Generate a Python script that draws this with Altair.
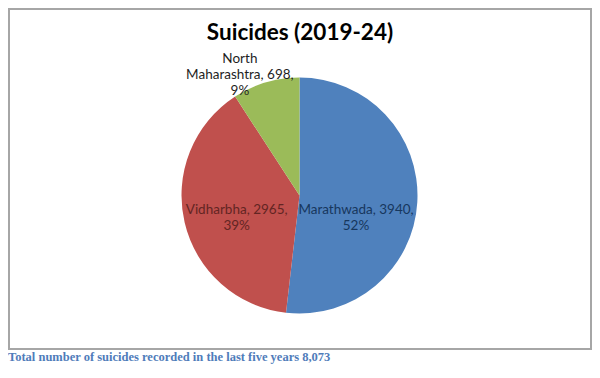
import altair as alt
import pandas as pd

regions = ["Marathwada", "Vidharbha", "North Maharashtra"]
suicides = [3940, 2965, 698]
label_lines = [
    ["Marathwada, 3940,", "52%"],
    ["Vidharbha, 2965,", "39%"],
    ["North", "Maharashtra, 698,", "9%"],
]
colors = ["#4F81BD", "#C0504D", "#9BBB59"]
label_colors = ["#17375E", "#632523", "#1E1E1E"]
title_text = "Suicides (2019-24)"
footer_text = "Total number of suicides recorded in the last five years 8,073"

total = sum(suicides)
df = pd.DataFrame({
    "region": regions,
    "value": suicides,
    "order": list(range(len(regions))),
    "label": label_lines,
})

W, H = 584, 360
CX, CY, R = 291.5, 187.5, 118
FONT = "Lato"
LH = 16

color_scale = alt.Scale(domain=regions, range=colors)

border = alt.Chart(pd.DataFrame({"a": [0]})).mark_rect(
    fill=None, stroke="#A6A6A6", strokeWidth=2
).encode(x=alt.value(1), x2=alt.value(583), y=alt.value(1), y2=alt.value(341))

arcs = alt.Chart(df).mark_arc(radius=R).encode(
    theta=alt.Theta("value:Q", stack=True),
    order=alt.Order("order:Q"),
    color=alt.Color("region:N", scale=color_scale, legend=None),
    x=alt.value(CX),
    y=alt.value(CY),
)

base = alt.Chart(df).transform_window(
    cum="sum(value)", sort=[alt.SortField("order")]
).transform_calculate(mid="datum.cum - datum.value / 2")

theta_mid = alt.Theta("mid:Q", scale=alt.Scale(domain=[0, total], range=[0, 6.283185307179586]))

label_specs = [
    (regions[0], 60, -3.4, 19 - LH / 2, label_colors[0]),
    (regions[1], 62, -2.5, 8.3 - LH / 2, label_colors[1]),
    (regions[2], 134, -21.5, 8 - LH, label_colors[2]),
]
label_layers = []
for name, rad, dx, dy, col in label_specs:
    label_layers.append(
        base.transform_filter(alt.datum.region == name).mark_text(
            radius=rad, dx=dx, dy=dy, font=FONT, fontSize=13.5, lineHeight=LH,
            align="center", baseline="middle", color=col
        ).encode(theta=theta_mid, text="label", x=alt.value(CX), y=alt.value(CY))
    )

title = alt.Chart(pd.DataFrame({"a": [0]})).mark_text(
    font=FONT, fontSize=22.5, fontWeight="bold", color="#000000",
    align="center", baseline="alphabetic"
).encode(x=alt.value(292), y=alt.value(32), text=alt.value(title_text))

footer = alt.Chart(pd.DataFrame({"a": [0]})).mark_text(
    font="Liberation Serif", fontSize=12.5, fontWeight="bold", color="#4F7CBA",
    align="left", baseline="alphabetic"
).encode(x=alt.value(0), y=alt.value(353), text=alt.value(footer_text))

chart = alt.layer(border, arcs, *label_layers, title, footer).properties(
    width=W, height=H, autosize=alt.AutoSizeParams(type="none"), padding=0
).configure_view(stroke=None)

chart.save("out.html", embed_options={"renderer": "svg", "actions": False})
